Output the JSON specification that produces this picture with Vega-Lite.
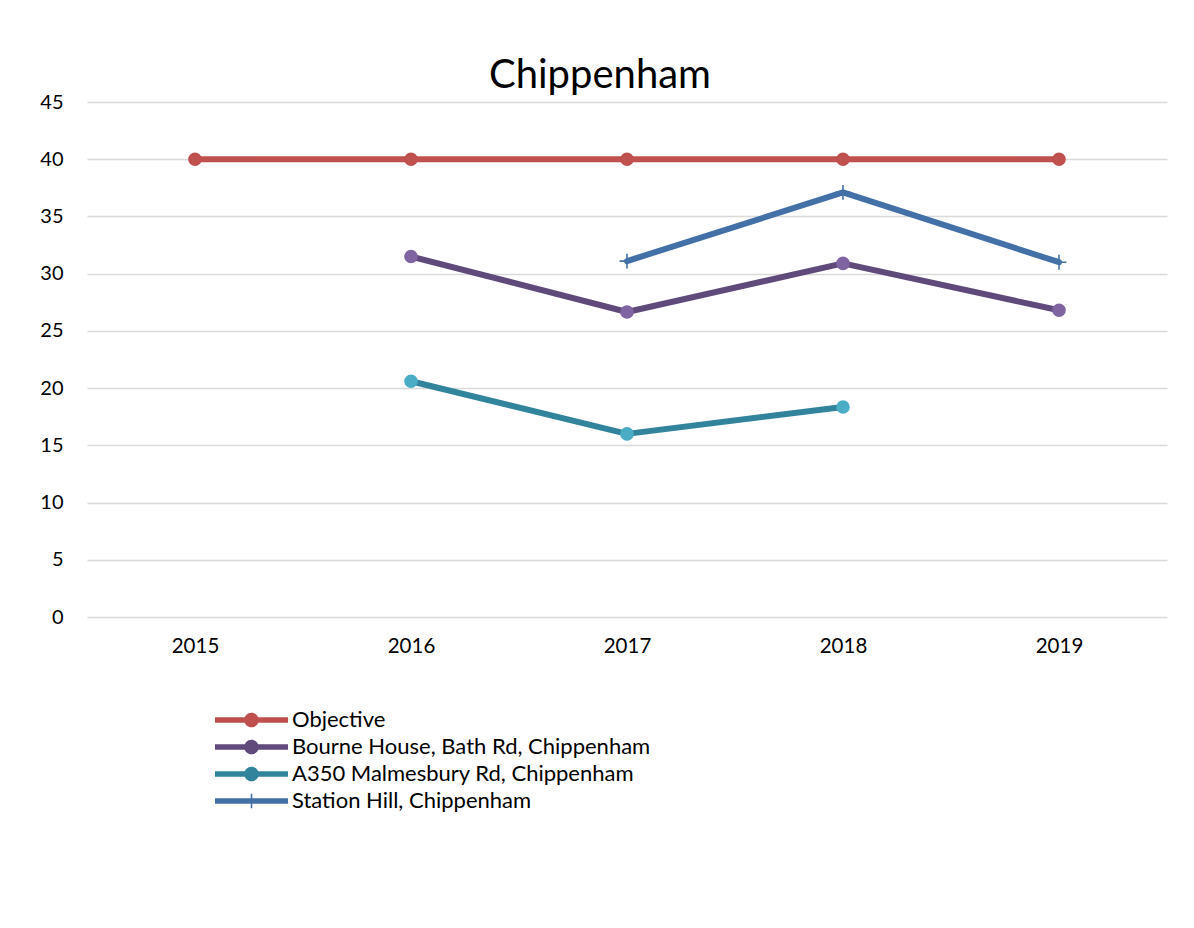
{
  "$schema": "https://vega.github.io/schema/vega-lite/v6.json",
  "width": 1080,
  "height": 515,
  "autosize": "none",
  "padding": {"left": 87, "top": 102, "right": 27, "bottom": 311},
  "background": "white",
  "title": {"text": "Chippenham", "fontSize": 40, "font": "Lato", "fontWeight": "normal", "color": "#000000", "anchor": "middle", "dx": -27, "offset": -4},
  "config": {"font": "Lato", "view": {"stroke": null}},
  "data": {"values": [
    {"year": "2015", "series": "Objective", "value": 40},
    {"year": "2016", "series": "Objective", "value": 40},
    {"year": "2017", "series": "Objective", "value": 40},
    {"year": "2018", "series": "Objective", "value": 40},
    {"year": "2019", "series": "Objective", "value": 40},
    {"year": "2016", "series": "Bourne House, Bath Rd, Chippenham", "value": 31.5},
    {"year": "2017", "series": "Bourne House, Bath Rd, Chippenham", "value": 26.65},
    {"year": "2018", "series": "Bourne House, Bath Rd, Chippenham", "value": 30.9},
    {"year": "2019", "series": "Bourne House, Bath Rd, Chippenham", "value": 26.8},
    {"year": "2016", "series": "A350 Malmesbury Rd, Chippenham", "value": 20.6},
    {"year": "2017", "series": "A350 Malmesbury Rd, Chippenham", "value": 16.0},
    {"year": "2018", "series": "A350 Malmesbury Rd, Chippenham", "value": 18.35},
    {"year": "2017", "series": "Station Hill, Chippenham", "value": 31.1},
    {"year": "2018", "series": "Station Hill, Chippenham", "value": 37.1},
    {"year": "2019", "series": "Station Hill, Chippenham", "value": 31.0}
  ]},
  "encoding": {
    "x": {"field": "year", "type": "ordinal", "scale": {"type": "point", "padding": 0.5},
      "axis": {"title": null, "domain": false, "ticks": false, "labelAngle": 0, "labelFontSize": 20.5, "labelColor": "#000000", "labelPadding": 19, "grid": false}},
    "y": {"field": "value", "type": "quantitative", "scale": {"domain": [0, 45], "nice": false, "zero": true},
      "axis": {"title": null, "values": [0, 5, 10, 15, 20, 25, 30, 35, 40, 45], "domain": false, "ticks": false, "labelFontSize": 20, "labelColor": "#000000", "labelPadding": 24, "grid": true, "gridColor": "#D9D9D9", "gridWidth": 1.5}}
  },
  "layer": [
    {
      "mark": {"type": "line", "strokeWidth": 6, "strokeCap": "round", "strokeJoin": "round"},
      "encoding": {
        "stroke": {"field": "series", "type": "nominal",
          "scale": {"domain": ["Objective", "Bourne House, Bath Rd, Chippenham", "A350 Malmesbury Rd, Chippenham", "Station Hill, Chippenham"],
                    "range": ["#C0504D", "#604A7B", "#31849B", "#4470A8"]},
          "legend": {
            "orient": "none", "legendX": 128, "legendY": 607, "title": null,
            "labelFontSize": 22, "labelColor": "#000000", "labelFont": "Lato", "labelOffset": 4, "labelLimit": 0,
            "symbolSize": 5329, "clipHeight": 22, "rowPadding": 5, "symbolOffset": 0,
            "encode": {"symbols": {"update": {
              "shape": {"signal": "datum.value === 'Station Hill, Chippenham' ? 'M-1,-0.075H1V0.075H-1Z M-0.022,-0.2H0.022V0.2H-0.022Z' : 'M-1,-0.075H-0.18V0.075H-1Z M0.18,-0.075H1V0.075H0.18Z M-0.2,0A0.2,0.2 0 1,1 0.2,0A0.2,0.2 0 1,1 -0.2,0Z'"},
              "fill": {"scale": "stroke", "field": "value"},
              "stroke": {"value": "transparent"},
              "strokeWidth": {"value": 0},
              "opacity": {"value": 1}
            }}}
          }
        }
      }
    },
    {
      "transform": [{"filter": "datum.series !== 'Station Hill, Chippenham'"}],
      "mark": {"type": "point", "filled": true, "size": 185, "opacity": 1, "shape": "circle"},
      "encoding": {
        "fill": {"field": "series", "type": "nominal",
          "scale": {"domain": ["Objective", "Bourne House, Bath Rd, Chippenham", "A350 Malmesbury Rd, Chippenham"],
                    "range": ["#C0504D", "#8064A2", "#4BACC6"]},
          "legend": null}
      }
    },
    {
      "transform": [{"filter": "datum.series === 'Station Hill, Chippenham'"}],
      "mark": {"type": "point", "filled": false, "shape": "M-1,0H1M0,-1V1", "size": 220, "stroke": "#4470A8", "strokeWidth": 1.6, "opacity": 1}
    }
  ]
}
